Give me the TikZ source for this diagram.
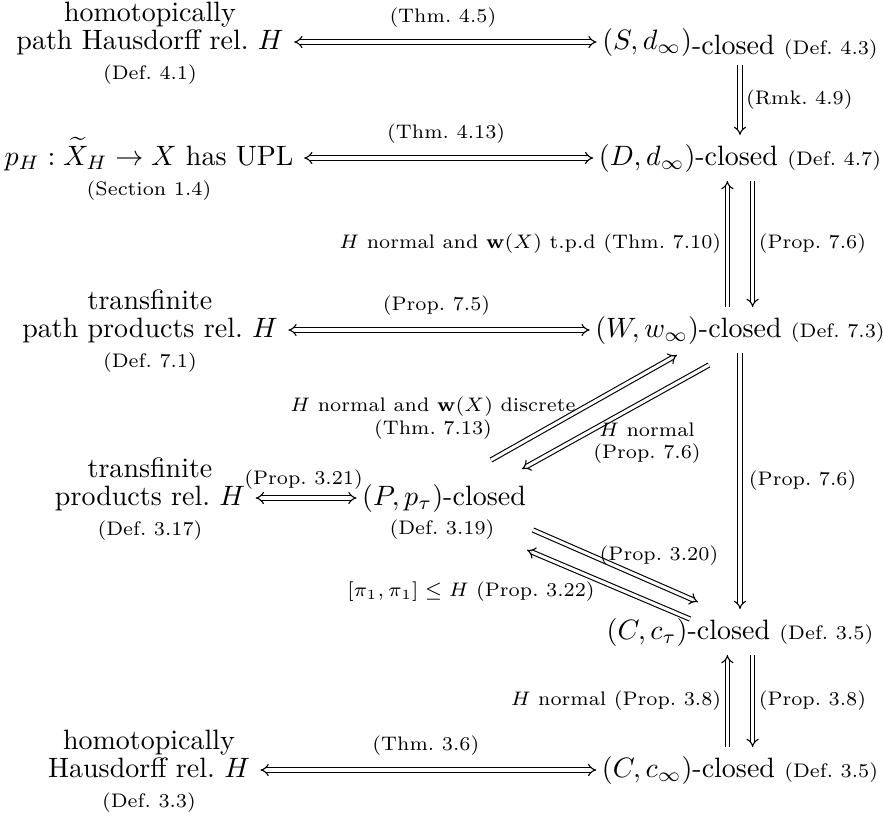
\documentclass[tikz,border=0pt]{standalone}
\usepackage{amsmath,amssymb}
\usetikzlibrary{arrows.meta,calc}
\begin{document}
\begin{tikzpicture}[x=0.357pt,y=-0.357pt,
  mn/.style={text height=7.5pt,text depth=2.5pt,inner xsep=0pt,inner ysep=3pt},
  ln/.style={anchor=base,inner sep=0pt},
  dn/.style={anchor=base,font=\scriptsize,inner sep=0pt},
  lab/.style={font=\scriptsize,inner sep=0pt},
  imp/.style={double,double distance=1.1pt,-{Implies},line width=0.4pt},
  bimp/.style={double,double distance=1.1pt,{Implies}-{Implies},line width=0.4pt},
  hz/.style={shorten <=3.6pt,shorten >=1.8pt}]
\useasboundingbox (0,0) rectangle (883,816);
% right column
\node[mn] (S) at (740,42) {$(S,d_\infty)$\raisebox{-2pt}{-closed {\scriptsize (Def.~4.3)}}};
\node[mn] (D) at (740,158) {$(D,d_\infty)$-closed {\scriptsize (Def.~4.7)}};
\node[mn] (W) at (740,330) {$(W,w_\infty)$-closed {\scriptsize (Def.~7.3)}};
\node[mn] (Ct) at (740,632) {$(C,c_\tau)$-closed {\scriptsize (Def.~3.5)}};
\node[mn] (Ci) at (740,770) {$(C,c_\infty)$-closed {\scriptsize (Def.~3.5)}};
% left column
\node[mn] (A1) at (150,42) {path Hausdorff rel.~$H$};
\node[ln] (A1t) at (150,21) {homotopically};
\node[dn] (A1d) at (150,79) {(Def.~4.1)};
\node[mn] (A2) at (149,158) {$p_H:\widetilde{X}_H\to X$ has UPL};
\node[dn] (A2d) at (149,195) {(Section 1.4)};
\node[mn] (A3) at (150,330) {path products rel.~$H$};
\node[ln] (A3t) at (150,309) {transfinite};
\node[dn] (A3d) at (150,367) {(Def.~7.1)};
\node[mn] (A4) at (150,498) {products rel.~$H$};
\node[ln] (A4t) at (150,477) {transfinite};
\node[dn] (A4d) at (150,535) {(Def.~3.17)};
\node[mn] (A6) at (149,770) {Hausdorff rel.~$H$};
\node[ln] (A6t) at (149,749) {homotopically};
\node[dn] (A6d) at (149,807) {(Def.~3.3)};
% middle
\node[mn] (P) at (444,498) {$(P,p_\tau)$-closed};
\node[dn] (Pd) at (442,534) {(Def.~3.19)};
% horizontal arrows
\draw[bimp,hz] (A1) -- node[lab,above=5pt]{(Thm.~4.5)} (S);
\draw[bimp,hz] (A2) -- node[lab,above=5pt]{(Thm.~4.13)} (D);
\draw[bimp,hz] (A3) -- node[lab,above=5pt]{(Prop.~7.5)} (W);
\draw[bimp,hz] (A4) -- node[lab,above=3pt]{(Prop.~3.21)} (P);
\draw[bimp,hz] (A6) -- node[lab,above=5pt]{(Thm.~3.6)} (Ci);
% vertical arrows
\draw[imp] (S) -- node[lab,right=2pt]{(Rmk.~4.9)} (D);
\draw[imp] ([xshift=-4.5pt]W.north) -- node[lab,left=2pt]{$H$ normal and $\mathbf{w}(X)$ t.p.d (Thm.~7.10)} ([xshift=-4.5pt]D.south);
\draw[imp] ([xshift=4.5pt]D.south) -- node[lab,right=2pt]{(Prop.~7.6)} ([xshift=4.5pt]W.north);
\draw[imp] (W) -- node[lab,right=3pt]{(Prop.~7.6)} (Ct);
\draw[imp] ([xshift=-4.5pt]Ci.north) -- node[lab,left=2pt]{$H$ normal (Prop.~3.8)} ([xshift=-4.5pt]Ct.south);
\draw[imp] ([xshift=4.5pt]Ct.south) -- node[lab,right=2pt]{(Prop.~3.8)} ([xshift=4.5pt]Ci.north);
% diagonals P -- W
\coordinate (u1) at (491,460); \coordinate (u2) at (677,355);
\coordinate (d1) at (709,365); \coordinate (d2) at (522,469);
\draw[imp] (u1) -- (u2);
\draw[imp] (d1) -- (d2);
\node[lab,align=center] (Lu) at (433,418) {$H$ normal and $\mathbf{w}(X)$ discrete\\(Thm.~7.13)};
\node[lab,align=center] (Ld) at (647,443) {$H$ normal\\(Prop.~7.6)};
% diagonals P -- Ct
\coordinate (e1) at (533,530); \coordinate (e2) at (698,602);
\coordinate (f1) at (690,619); \coordinate (f2) at (527,550);
\draw[imp] (e1) -- (e2);
\draw[imp] (f1) -- (f2);
\node[lab] (Le) at (659,556) {(Prop.~3.20)};
\node[lab] (Lf) at (471,592) {$[\pi_1,\pi_1]\leq H$ (Prop.~3.22)};
\end{tikzpicture}
\end{document}
